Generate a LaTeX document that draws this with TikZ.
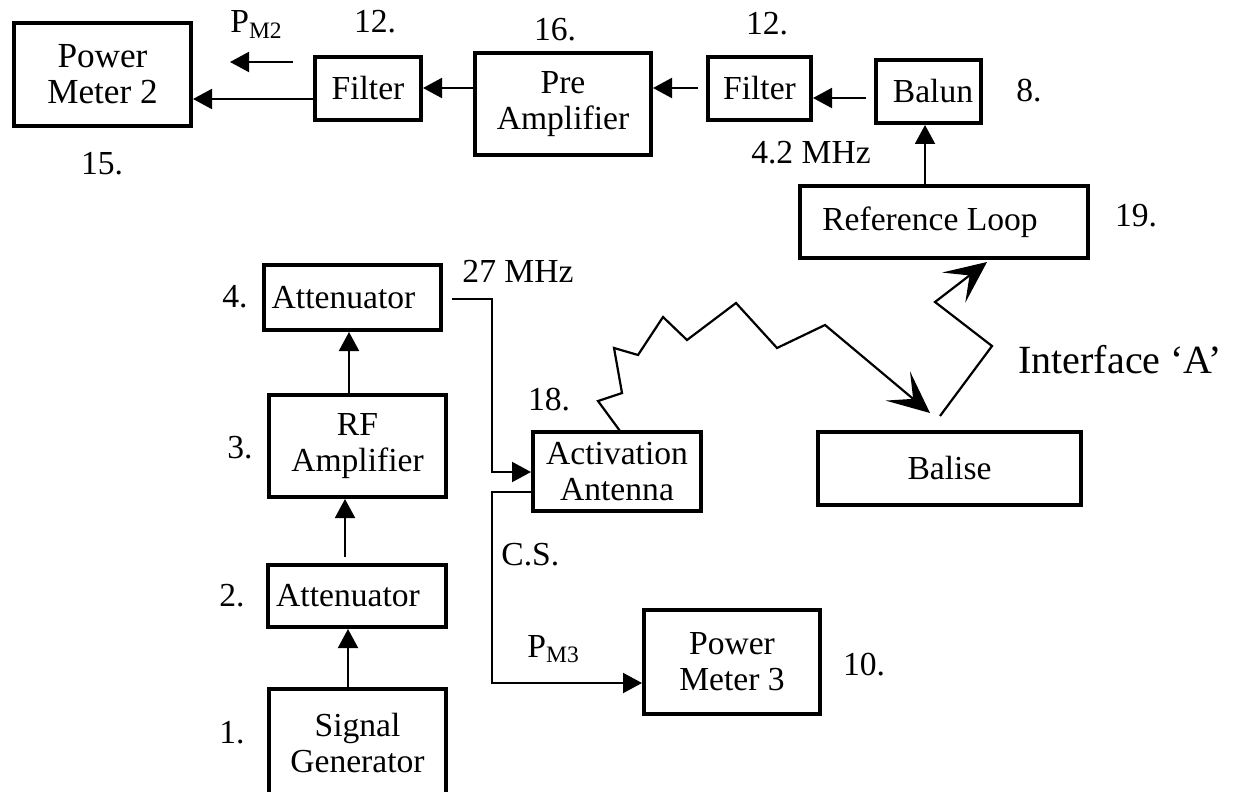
\documentclass[tikz,border=0pt]{standalone}
\usepackage{fontspec}
\setmainfont{Liberation Serif}
\usetikzlibrary{arrows.meta}
\newcommand{\dfont}{\fontsize{16.8}{18}\selectfont}
\begin{document}
\begin{tikzpicture}[x=0.5pt,y=-0.5pt,
  box/.style={draw, line width=2pt, inner sep=0pt, align=center, font=\dfont},
  sz/.style 2 args={minimum width={#1*0.5pt}, minimum height={#2*0.5pt}},
  lbl/.style={inner sep=0pt, anchor=base, font=\dfont},
  conn/.style={line width=1pt, -{Triangle[length=9.5pt,width=10pt]}},
  wave/.style={line width=1.1pt, line join=miter, -{Stealth[length=21pt,width=19pt,inset=10pt]}}
]
\useasboundingbox (0,0) rectangle (1234,791);
\clip (0,0) rectangle (1234,791);

% boxes
\node[box, sz={177}{103}, font=\fontsize{17.6}{18}\selectfont] (pm2) at (102.5,74.5) {Power\\Meter 2};
\node[box, sz={106}{63}] (f1) at (368,88.5) {Filter};
\node[box, sz={176}{102}] (pre) at (563,104) {Pre\\Amplifier};
\node[box, sz={103}{63}] (f2) at (759.5,88.5) {Filter};
\node[box, sz={105}{63}] (bal) at (928.5,91.5) {\hspace{4.5pt}Balun};
\node[box, sz={288}{72}] (ref) at (944,222) {Reference Loop\hspace{14pt}};
\node[box, sz={177}{65}] (att4) at (352.5,297.5) {Attenuator\hspace{9pt}};
\node[box, sz={177}{102}] (rf) at (357.5,446) {RF\\Amplifier};
\node[box, sz={178}{62}] (att2) at (357,596) {Attenuator\hspace{9pt}};
\node[box, sz={177}{108}] (sg) at (357.5,743) {Signal\\Generator};
\node[box, sz={168}{79}] (act) at (617,471.5) {Activation\\Antenna};
\node[box, sz={263}{73}] (bls) at (949.5,468.5) {Balise};
\node[box, sz={176}{104}] (pm3) at (732,662) {Power\\Meter 3};

% labels
\node[lbl] (n15) at (102,175) {15.};
\node[lbl, anchor=base west] (pm2lbl) at (230,33) {P\textsubscript{M2}};
\node[lbl] (n12a) at (375,33) {12.};
\node[lbl] (n16) at (555,41) {16.};
\node[lbl] (n12b) at (767,35) {12.};
\node[lbl] (n8) at (1029,102) {8.};
\node[lbl] (f42) at (811,163) {4.2 MHz};
\node[lbl] (n19) at (1136,227) {19.};
\node[lbl] (f27) at (518,282) {27 MHz};
\node[lbl] (n4) at (235,307) {4.};
\node[lbl] (n3) at (240,458) {3.};
\node[lbl] (n18) at (549,410) {18.};
\node[lbl, font=\fontsize{20}{24}\selectfont] (ifa) at (1120,373) {Interface ‘A’};
\node[lbl, anchor=base west] (cs) at (501,565) {C.S.};
\node[lbl, anchor=base west] (pm3lbl) at (527,657) {P\textsubscript{M3}};
\node[lbl] (n10) at (864,675) {10.};
\node[lbl] (n2) at (232,606) {2.};
\node[lbl] (n1) at (232,743) {1.};

% helper coordinates
\coordinate (h99) at (0,99);
\coordinate (h88) at (0,88);
\coordinate (h98) at (0,98);
\coordinate (h472) at (0,472);
\coordinate (h492) at (0,492);
\coordinate (h683) at (0,683);
\coordinate (v925) at (925,0);
\coordinate (v349) at (349,0);
\coordinate (v345) at (345,0);
\coordinate (v348) at (348,0);
\coordinate (v492) at (492,0);
\coordinate (a4out) at (452,299);
\coordinate (pa) at (293,62);
\coordinate (pb) at (230,62);
\coordinate (za) at (620,431);
\coordinate (zb) at (930,413);
\coordinate (ya) at (940,416);
\coordinate (yb) at (987,262);

% connectors
\draw[conn] (pa) -- (pb);
\draw[conn] (f1.west |- h99) -- (pm2.east |- h99);
\draw[conn] (pre.west |- h88) -- (f1.east |- h88);
\draw[conn, shorten <=4pt] (f2.west |- h88) -- (pre.east |- h88);
\draw[conn, shorten <=4pt] (bal.west |- h98) -- (f2.east |- h98);
\draw[conn] (ref.north -| v925) -- (bal.south -| v925);
\draw[conn] (rf.north -| v349) -- (att4.south -| v349);
\draw[conn, shorten <=3pt] (att2.north -| v345) -- (rf.south -| v345);
\draw[conn] (sg.north -| v348) -- (att2.south -| v348);
\draw[conn] (a4out) -- (v492 |- a4out) |- (act.west |- h472);
\draw[conn] (act.west |- h492) -- (v492 |- h492) |- (pm3.west |- h683);

% radio waves
\draw[wave] (za) -- (598,401) -- (622,393) -- (614,348) -- (638,355) -- (663,317)
  -- (687,340) -- (736,303) -- (777,348) -- (825,325) -- (zb);
\draw[wave] (ya) -- (992,346) -- (935,302) -- (yb);
\end{tikzpicture}
\end{document}
